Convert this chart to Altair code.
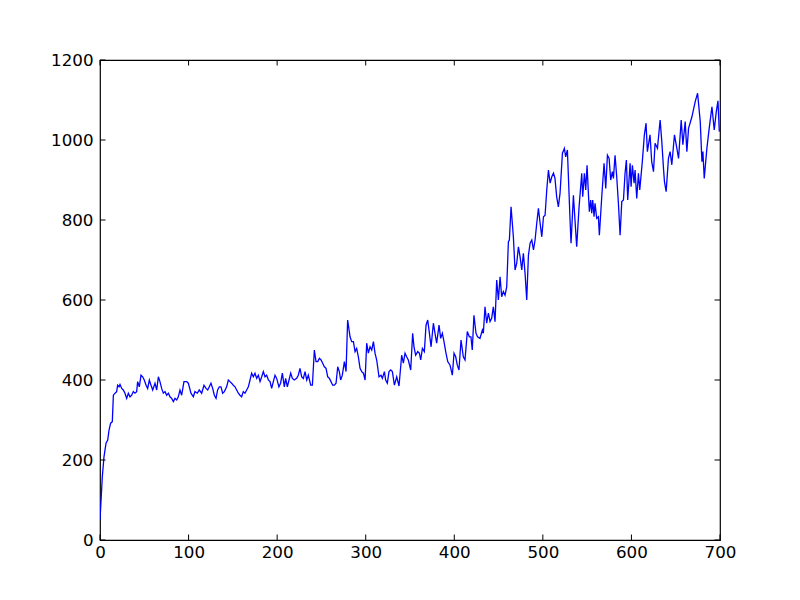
import altair as alt
import pandas as pd

xs = [0, 2.6, 4.5, 6.8, 8.7, 10.2, 12.0, 13.9, 15.1, 17.0, 18.8, 19.9, 21.5, 22.6, 24.5, 26.3, 28.2, 30.1, 32.0, 33.9,
      35.8, 37.6, 39.5, 41.4, 42.5, 44.4, 46.3, 48.2, 50.0, 52.0, 53.8, 55.7, 57.6, 59.5, 62.1, 64.0, 65.9, 67.7, 69.6, 71.5,
      73.4, 75.3, 77.2, 79.0, 80.9, 82.8, 84.7, 86.6, 88.4,
      90.3, 92.2, 94.8, 97.9, 99.7, 102.7, 105.4, 107.2, 109.9, 112.1, 114.8, 117.4, 119.7, 121.6, 123.4, 125.3, 127.2, 129.1, 131.0, 132.8,
      134.7, 136.6, 138.5, 140.4, 143.0, 144.9, 146.8, 148.6, 150.5, 152.4, 154.3, 156.2, 158.0, 159.9, 161.8, 163.7, 165.6, 167.5, 169.4, 171.2,
      173.1, 175.0, 176.9, 178.8, 180.7, 182.6, 184.4, 186.3, 188.2, 190.1, 192.0, 193.8, 195.7,
      197.6, 199.5, 202.0, 203.9, 205.9, 208.1, 209.6, 211.5, 213.4, 215.3, 217.2, 219.4, 222.0, 223.9, 225.8, 227.7, 229.6, 231.5, 233.4, 235.2,
      237.9, 239.8, 242.0, 243.9, 245.8, 247.7, 249.6, 251.4, 253.3, 255.2, 257.1, 259.0, 260.8, 262.7, 264.6, 266.5, 268.4, 270.2, 271.7, 273.6,
      275.9, 277.8, 279.6, 282.3, 284.2, 286.1, 288.0, 289.8, 291.7, 293.6, 295.5, 297.4, 299.3, 301.1, 303.0, 304.9, 306.8, 308.7,
      310.5, 312.4, 315.0, 317.3, 318.8, 321.1, 322.5, 324.4, 326.3, 328.2, 330.1, 332.4, 335.0, 337.6, 340.6, 342.5, 344.4, 346.2, 348.1, 350.8,
      353.0, 354.5, 356.4, 358.7, 360.6, 362.1, 364.0, 366.2, 368.1, 370.0, 371.9, 373.8, 376.4, 378.2, 380.1, 382.8, 384.6, 386.5, 388.4, 390.3,
      392.6, 395.2, 397.8, 399.7, 401.6, 403.4, 405.3, 407.6, 410.2, 412.1, 414.7, 417.0, 418.8, 420.3, 422.2, 424.5, 426.3,
      429.0, 431.7, 432.8, 434.7, 436.6, 438.5, 440.4, 442.2, 444.1, 446.0, 447.9, 449.8, 451.7, 453.5, 455.4, 457.3, 459.2, 461.1, 462.2, 464.1,
      466.7, 468.6, 470.5, 472.4, 474.3, 476.2, 478.0, 479.9, 481.8, 483.7, 485.6, 487.5, 489.4, 491.2, 493.1, 495.0, 496.9, 498.8, 500.7, 502.5,
      504.4, 506.3, 508.2, 510.1, 512.0,
      513.7, 515.6, 517.5, 519.4, 522.1, 524.3, 525.8, 527.7, 530.7, 531.8, 534.5, 538.2, 540.9, 543.9, 545.0, 546.9, 548.4, 549.9, 551.4, 552.5,
      554.0, 555.2, 556.3, 557.8, 558.9, 560.8, 562.7, 563.8, 566.5, 569.1, 571.0, 572.9, 574.8, 576.6, 578.5, 579.7, 581.5, 583.4, 585.3, 587.2,
      589.1, 591.0, 592.8, 594.3, 595.8, 598.5, 599.6, 601.1, 603.0, 604.1, 606.0, 607.9, 609.4,
      612.3, 614.6, 616.5, 618.0, 621.0, 622.9, 624.9, 626.7, 629.4, 632.4, 634.3, 636.2, 637.3, 639.2, 641.8, 643.7, 645.6, 648.6, 651.3, 653.2,
      656.2, 658.1, 660.7, 662.6, 664.5, 668.3, 672.0, 674.7, 677.7, 679.6, 680.7, 682.2, 685.2, 687.8, 690.9, 693.5, 695.8, 697.7, 699.2]

ys = [50, 158, 208, 242, 250, 275, 292, 296, 362, 367, 371, 387, 383, 389, 379, 375, 367, 354, 367, 358,
      362, 371, 367, 371, 396, 383, 412, 408, 400, 387, 379, 400, 387, 375, 392, 375, 408, 396, 379, 367,
      371, 362, 367, 358, 354, 346, 354, 350, 358,
      375, 362, 396, 396, 392, 367, 358, 371, 367, 375, 367, 387, 379, 375, 383, 392, 379, 362, 354, 375,
      383, 383, 367, 371, 383, 400, 396, 392, 387, 383, 375, 367, 362, 358, 371, 367, 375, 383, 400, 417,
      408, 417, 404, 412, 396, 408, 421, 408, 412, 400, 396, 379, 396,
      412, 404, 383, 392, 417, 383, 404, 383, 400, 417, 404, 400, 404, 412, 429, 408, 404, 421, 400, 412,
      387, 387, 475, 446, 446, 454, 450, 442, 433, 429, 408, 404, 396, 387, 387, 392, 433, 421, 400, 412,
      446, 421, 550, 508, 496, 496, 471, 479, 458, 429, 421, 417, 400, 492, 467, 483, 475, 496,
      467, 450, 408, 412, 404, 421, 400, 392, 421, 425, 421, 387, 408, 385, 462, 442, 467, 458, 450, 425,
      517, 483, 462, 471, 467, 450, 479, 471, 537, 550, 517, 483, 542, 517, 492, 537, 504, 517, 496, 471,
      446, 437, 412, 467, 458, 437, 425, 500, 458, 450, 521, 508, 508, 475, 562, 517, 508,
      504, 525, 517, 583, 542, 567, 546, 554, 583, 546, 650, 600, 658, 608, 621, 612, 633, 746, 750, 833,
      758, 675, 692, 733, 708, 675, 717, 667, 600, 712, 742, 750, 725, 750, 792, 829, 792, 758, 808, 812,
      875, 925, 892, 908, 917,
      904, 858, 833, 867, 967, 979, 958, 975, 800, 742, 862, 733, 833, 917, 858, 917, 875, 937, 867, 821,
      850, 817, 850, 808, 842, 804, 808, 762, 858, 942, 879, 962, 954, 900, 921, 904, 962, 908, 842, 762,
      846, 850, 917, 950, 850, 942, 883, 937, 892, 925, 854, 917, 875,
      946, 1013, 1042, 971, 1013, 946, 921, 992, 979, 1050, 996, 929, 896, 871, 954, 971, 938, 1013, 979, 954,
      1050, 988, 1046, 971, 1029, 1058, 1096, 1117, 1046, 946, 971, 904, 979, 1029, 1083, 1025, 1071, 1098, 1021]

x_ticks = [0, 100, 200, 300, 400, 500, 600, 700]
y_ticks = [0, 200, 400, 600, 800, 1000, 1200]

W, H = 620, 480
TL = 5.5
FONT = "DejaVu Sans"

df = pd.DataFrame({"x": xs, "y": ys})
xt = pd.DataFrame({"x": x_ticks})
yt = pd.DataFrame({"y": y_ticks})

xscale = alt.Scale(domain=[0, 700], nice=False, zero=False)
yscale = alt.Scale(domain=[0, 1200], nice=False, zero=False)

xaxis = alt.Axis(values=x_ticks, title=None, grid=False, ticks=False, tickSize=0, format="d",
                 domain=False, labelPadding=4, labelFont=FONT, labelFontSize=16.7,
                 labelColor="black", labelFlush=False, labelOverlap=False, labelBound=False)
yaxis = alt.Axis(values=y_ticks, title=None, grid=False, ticks=False, tickSize=0, format="d",
                 domain=False, labelPadding=7, labelFont=FONT, labelFontSize=16.7,
                 labelColor="black", labelFlush=False, labelOverlap=False, labelBound=False)

line = alt.Chart(df).mark_line(color="#0000ff", strokeWidth=1.3, clip=True).encode(
    x=alt.X("x:Q", scale=xscale, axis=xaxis),
    y=alt.Y("y:Q", scale=yscale, axis=yaxis),
)

bottom = alt.Chart(xt).mark_rule(color="black", strokeWidth=1).encode(
    x=alt.X("x:Q", scale=xscale, axis=xaxis), y=alt.value(H), y2=alt.value(H - TL))
top = alt.Chart(xt).mark_rule(color="black", strokeWidth=1).encode(
    x=alt.X("x:Q", scale=xscale, axis=xaxis), y=alt.value(0), y2=alt.value(TL))
left = alt.Chart(yt).mark_rule(color="black", strokeWidth=1).encode(
    y=alt.Y("y:Q", scale=yscale, axis=yaxis), x=alt.value(0), x2=alt.value(TL))
right = alt.Chart(yt).mark_rule(color="black", strokeWidth=1).encode(
    y=alt.Y("y:Q", scale=yscale, axis=yaxis), x=alt.value(W), x2=alt.value(W - TL))

chart = alt.layer(line, bottom, top, left, right).properties(
    width=W, height=H,
    autosize=alt.AutoSizeParams(type="none"),
    padding={"left": 92, "top": 52, "right": 72, "bottom": 52},
    background="white",
).configure_view(stroke="black", strokeWidth=1.2)

chart.save("out.html", embed_options={"renderer": "svg", "actions": False})
